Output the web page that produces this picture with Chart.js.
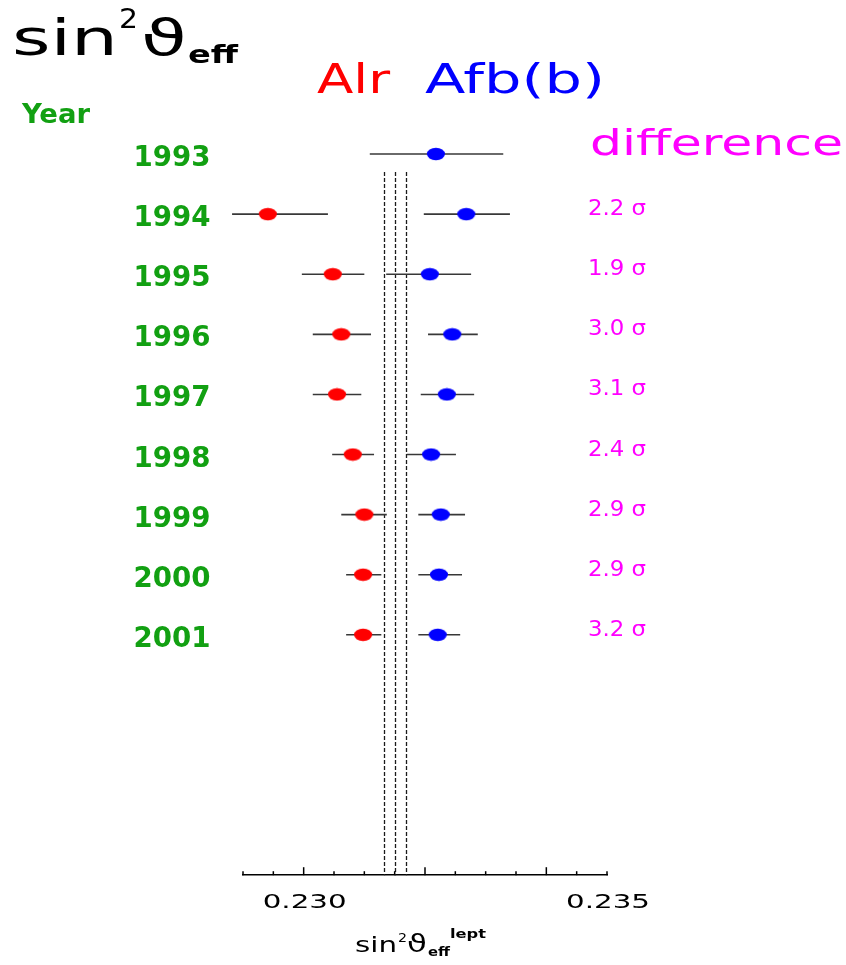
<!DOCTYPE html>
<html>
<head>
<meta charset="utf-8">
<script src="https://cdn.jsdelivr.net/npm/chart.js@4.4.0/dist/chart.umd.min.js"></script>
<style>
  html, body { margin: 0; padding: 0; background: #fff; }
  #wrap { width: 846px; height: 965px; position: relative; }
</style>
</head>
<body>
<div id="wrap"><canvas id="sinChart"></canvas></div>
<script>
// one row per year, row 0 at the top
const years = ['1993', '1994', '1995', '1996', '1997', '1998', '1999', '2000', '2001'];

const alrValue = [null, 0.22941, 0.23048, 0.23062, 0.23055, 0.23081, 0.23100, 0.23098, 0.23098];
const alrLow   = [null, 0.22882, 0.22997, 0.23015, 0.23015, 0.23047, 0.23062, 0.23070, 0.23070];
const alrHigh  = [null, 0.23040, 0.23100, 0.23111, 0.23095, 0.23116, 0.23137, 0.23128, 0.23128];

const afbValue = [0.23218, 0.23268, 0.23208, 0.23245, 0.23236, 0.23210, 0.23226, 0.23223, 0.23221];
const afbLow   = [0.23109, 0.23198, 0.23136, 0.23205, 0.23193, 0.23170, 0.23189, 0.23189, 0.23189];
const afbHigh  = [0.23329, 0.23340, 0.23276, 0.23287, 0.23281, 0.23251, 0.23266, 0.23261, 0.23258];

const differences = ['', '2.2 σ', '1.9 σ', '3.0 σ', '3.1 σ', '2.4 σ', '2.9 σ', '2.9 σ', '3.2 σ'];

// world average band (dashed lines)
const averageLines = [0.23132, 0.23150, 0.23169];

const xTickLabels = [0.230, 0.235];
const axisTicks = [0.229, 0.2295, 0.230, 0.2305, 0.231, 0.2315, 0.232, 0.2325, 0.233, 0.2335, 0.234, 0.2345, 0.235];
const majorTicks = [0.230, 0.232, 0.234];

const GREEN = '#12a012';
const MAGENTA = '#ff00ff';

function makeDot(color) {
    const c = document.createElement('canvas');
    c.width = 20;
    c.height = 14;
    const g = c.getContext('2d');
    g.fillStyle = color;
    g.beginPath();
    g.ellipse(10, 7, 9, 6.2, 0, 0, Math.PI * 2);
    g.fill();
    return c;
}

function points(values) {
    const out = [];
    values.forEach((v, i) => {
        if (v !== null) out.push({ x: v, y: i });
    });
    return out;
}

// draws text; when width is given the glyphs are stretched sideways to fill it
function text(ctx, str, x, y, font, color, width, align) {
    ctx.save();
    ctx.font = font;
    ctx.fillStyle = color;
    ctx.textAlign = 'left';
    ctx.textBaseline = 'alphabetic';
    const natural = ctx.measureText(str).width;
    const w = width || natural;
    const left = align === 'center' ? x - w / 2 : x;
    ctx.translate(left, y);
    ctx.scale(w / natural, 1);
    ctx.fillText(str, 0, 0);
    ctx.restore();
}

const decorations = {
    id: 'decorations',
    beforeDatasetsDraw(chart) {
        const ctx = chart.ctx;
        const xs = chart.scales.x;
        const ys = chart.scales.y;
        const area = chart.chartArea;

        ctx.save();
        // dashed average lines
        ctx.strokeStyle = '#1a1a1a';
        ctx.lineWidth = 1.3;
        ctx.setLineDash([4, 2]);
        averageLines.forEach(v => {
            const px = Math.round(xs.getPixelForValue(v)) + 0.5;
            ctx.beginPath();
            ctx.moveTo(px, ys.getPixelForValue(0.3));
            ctx.lineTo(px, area.bottom);
            ctx.stroke();
        });
        ctx.setLineDash([]);

        // error bars
        ctx.strokeStyle = '#383838';
        ctx.lineWidth = 1.6;
        years.forEach((y, i) => {
            const py = ys.getPixelForValue(i);
            [[alrLow[i], alrHigh[i]], [afbLow[i], afbHigh[i]]].forEach(([lo, hi]) => {
                if (lo === null) return;
                ctx.beginPath();
                ctx.moveTo(xs.getPixelForValue(lo), py);
                ctx.lineTo(xs.getPixelForValue(hi), py);
                ctx.stroke();
            });
        });

        // axis ticks pointing up
        ctx.strokeStyle = '#000';
        ctx.lineWidth = 1.5;
        axisTicks.forEach(v => {
            const px = xs.getPixelForValue(v);
            const len = majorTicks.some(m => Math.abs(m - v) < 1e-7) ? 8 : 4;
            ctx.beginPath();
            ctx.moveTo(px, area.bottom);
            ctx.lineTo(px, area.bottom - len);
            ctx.stroke();
        });
        ctx.restore();
    },
    afterDraw(chart) {
        const ctx = chart.ctx;
        const xs = chart.scales.x;
        const ys = chart.scales.y;
        const area = chart.chartArea;

        // axis numbers, placed by the x scale
        xTickLabels.forEach(v => {
            text(ctx, v.toFixed(3), xs.getPixelForValue(v) + 1, area.bottom + 33,
                '20px "DejaVu Sans"', '#000', 84, 'center');
        });

        // top-left title
        text(ctx, 'sin', 12, 55, '50px "DejaVu Sans"', '#000', 106);
        text(ctx, '2', 119, 28, '26px "DejaVu Sans"', '#000', 19);
        text(ctx, 'ϑ', 141, 55, '50px "DejaVu Sans"', '#000', 46);
        text(ctx, 'eff', 188, 63, 'bold 25px "DejaVu Sans"', '#000', 50);

        // series names
        text(ctx, 'Alr', 317, 93, '41px "DejaVu Sans"', '#ff0000', 73);
        text(ctx, 'Afb(b)', 425, 93, '41px "DejaVu Sans"', '#0000ff', 180);

        text(ctx, 'Year', 22, 123, 'bold 26px "DejaVu Sans"', GREEN, 68);
        text(ctx, 'difference', 590, 155, '36px "DejaVu Sans"', MAGENTA, 253);

        years.forEach((y, i) => {
            text(ctx, y, 172, ys.getPixelForValue(i) + 12, 'bold 28px "DejaVu Sans"', GREEN, 77, 'center');
        });

        differences.forEach((d, i) => {
            if (d) text(ctx, d, 588, ys.getPixelForValue(i) + 1, '22px "DejaVu Sans"', MAGENTA, 58);
        });

        // x axis title
        text(ctx, 'sin', 355, 952, '22px "DejaVu Sans"', '#000', 42);
        text(ctx, '2', 398, 942, '13px "DejaVu Sans"', '#000', 9);
        text(ctx, 'ϑ', 407, 952, '24px "DejaVu Sans"', '#000', 20);
        text(ctx, 'eff', 428, 956, 'bold 12px "DejaVu Sans"', '#000', 22);
        text(ctx, 'lept', 450, 938, 'bold 12px "DejaVu Sans"', '#000', 36);
    }
};

new Chart(document.getElementById('sinChart'), {
    type: 'scatter',
    data: {
        datasets: [{
            label: 'Alr',
            data: points(alrValue),
            pointStyle: makeDot('#ff0000'),
            clip: false
        }, {
            label: 'Afb(b)',
            data: points(afbValue),
            pointStyle: makeDot('#0000ff'),
            clip: false
        }]
    },
    options: {
        responsive: true,
        maintainAspectRatio: false,
        animation: false,
        events: [],
        layout: { padding: { left: 243, right: 239, top: 124, bottom: 31 } },
        plugins: {
            legend: { display: false },
            tooltip: { enabled: false },
            title: { display: false }
        },
        scales: {
            x: {
                type: 'linear',
                min: 0.229,
                max: 0.235,
                afterBuildTicks: scale => {
                    scale.ticks = xTickLabels.map(v => ({ value: v }));
                },
                grid: { display: false, drawTicks: false, tickLength: 0 },
                border: { display: true, color: '#000', width: 1.5 },
                ticks: {
                    padding: 18,
                    maxRotation: 0,
                    autoSkip: false,
                    color: 'rgba(0,0,0,0)',
                    font: { family: 'DejaVu Sans', size: 19 },
                    callback: v => v.toFixed(3)
                }
            },
            y: {
                type: 'linear',
                display: false,
                reverse: true,
                min: -0.5,
                max: 12
            }
        }
    },
    plugins: [decorations]
});
</script>
</body>
</html>
